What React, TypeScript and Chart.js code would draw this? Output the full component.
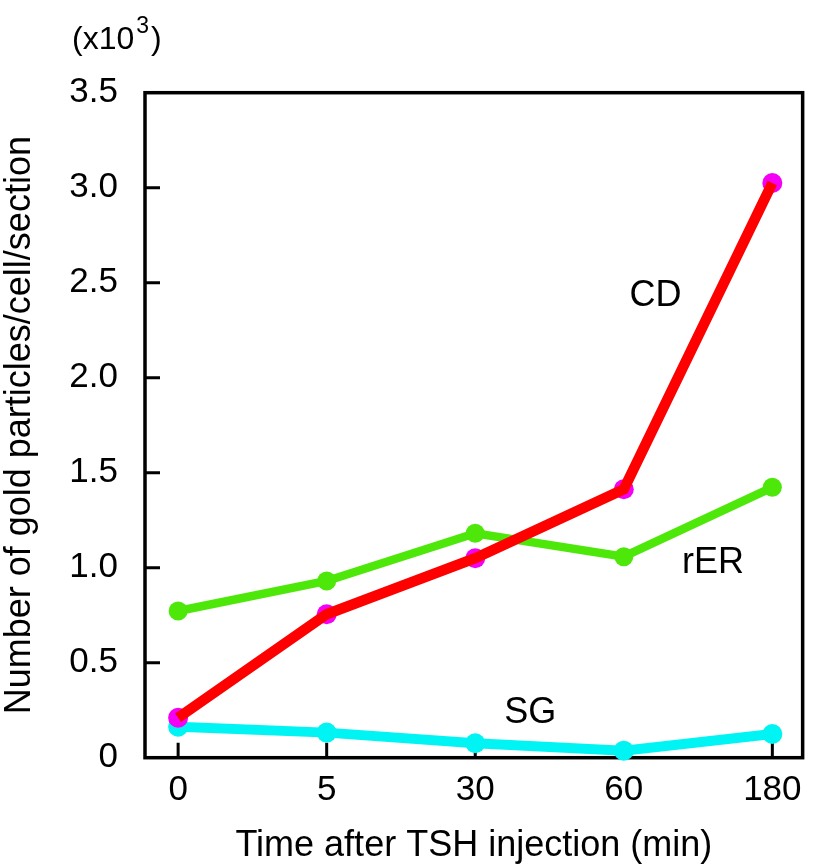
import React, { useEffect, useRef } from "react";
import { Chart, registerables } from "chart.js";

Chart.register(...registerables);

const timeLabels = ["0", "5", "30", "60", "180"];
const cdValues = [0.21, 0.755, 1.05, 1.413, 3.025];
const rerValues = [0.772, 0.93, 1.181, 1.058, 1.423];
const sgValues = [0.163, 0.132, 0.076, 0.037, 0.125];
const yTicks = [0, 0.5, 1.0, 1.5, 2.0, 2.5, 3.0, 3.5];

// where the series names sit, in data units
const seriesNotes = [
  { text: "CD", x: 3.213, y: 2.43 },
  { text: "rER", x: 3.6, y: 1.025 },
  { text: "SG", x: 2.37, y: 0.235 },
];

const FONT = "'Liberation Sans', Arial, Helvetica, sans-serif";

const toPoints = (vals: number[]) => vals.map((v, i) => ({ x: i, y: v }));

// black frame with ticks pointing inward, drawn under the data
const framePlugin = {
  id: "frame",
  beforeDatasetsDraw(chart: any) {
    const { ctx, chartArea } = chart;
    const xs = chart.scales.x;
    const ys = chart.scales.y;
    ctx.save();
    ctx.strokeStyle = "#000";
    ctx.lineWidth = 3.5;
    ctx.strokeRect(chartArea.left, chartArea.top, chartArea.right - chartArea.left, chartArea.bottom - chartArea.top);
    ctx.lineWidth = 3;
    ctx.beginPath();
    yTicks.forEach((t) => {
      if (t === 0 || t === 3.5) return;
      const py = ys.getPixelForValue(t);
      ctx.moveTo(chartArea.left, py);
      ctx.lineTo(chartArea.left + 15, py);
    });
    timeLabels.forEach((_, i) => {
      const px = xs.getPixelForValue(i);
      ctx.moveTo(px, chartArea.bottom);
      ctx.lineTo(px, chartArea.bottom - 15);
    });
    ctx.stroke();
    ctx.restore();
  },
  afterDraw(chart: any) {
    const { ctx } = chart;
    const xs = chart.scales.x;
    const ys = chart.scales.y;
    ctx.save();
    ctx.fillStyle = "#000";
    ctx.textAlign = "center";
    ctx.textBaseline = "middle";
    ctx.font = `36px ${FONT}`;
    seriesNotes.forEach((n) => {
      ctx.fillText(n.text, xs.getPixelForValue(n.x), ys.getPixelForValue(n.y));
    });
    // unit note above the y axis
    ctx.textAlign = "left";
    ctx.textBaseline = "alphabetic";
    ctx.font = `32px ${FONT}`;
    ctx.fillText("(x10", 72, 49);
    const w = ctx.measureText("(x10").width;
    ctx.font = `23px ${FONT}`;
    ctx.fillText("3", 72 + w + 2, 33);
    const w3 = ctx.measureText("3").width;
    ctx.font = `32px ${FONT}`;
    ctx.fillText(")", 72 + w + w3 + 4, 49);
    ctx.restore();
  },
};

const App = () => {
  const chartRef = useRef<HTMLCanvasElement>(null);

  useEffect(() => {
    const ctx = chartRef.current!.getContext("2d")!;
    const myChart = new Chart(ctx, {
      type: "line",
      data: {
        datasets: [
          {
            label: "CD",
            data: toPoints(cdValues),
            borderColor: "#ff0000",
            borderWidth: 10.5,
            pointRadius: 0,
            fill: false,
            clip: false,
          },
          {
            label: "CD points",
            data: toPoints(cdValues),
            showLine: false,
            pointRadius: 10,
            pointBackgroundColor: "#f400f4",
            pointBorderWidth: 0,
            clip: false,
          },
          {
            label: "rER",
            data: toPoints(rerValues),
            borderColor: "#4de80a",
            borderWidth: 8.5,
            pointRadius: 9.5,
            pointBackgroundColor: "#4de80a",
            pointBorderWidth: 0,
            fill: false,
            clip: false,
          },
          {
            label: "SG",
            data: toPoints(sgValues),
            borderColor: "#00f4f4",
            borderWidth: 10,
            pointRadius: 10,
            pointBackgroundColor: "#00f4f4",
            pointBorderWidth: 0,
            fill: false,
            clip: false,
          },
        ],
      } as any,
      options: {
        responsive: false,
        animation: false,
        layout: { padding: { top: 92.7, right: 7, left: 0, bottom: 0 } },
        plugins: {
          legend: { display: false },
          tooltip: { enabled: false },
        },
        scales: {
          x: {
            type: "linear",
            min: -0.223,
            max: 4.204,
            afterBuildTicks: (scale: any) => {
              scale.ticks = timeLabels.map((_, i) => ({ value: i }));
            },
            afterFit: (scale: any) => {
              scale.height = 106.3;
            },
            grid: { display: false, drawTicks: false },
            border: { display: false },
            ticks: {
              color: "#000",
              font: { family: FONT, size: 35 },
              padding: 12,
              maxRotation: 0,
              autoSkip: false,
              callback: (v: any) => timeLabels[Math.round(v)] ?? "",
            },
            title: {
              display: true,
              text: "Time after TSH injection (min)",
              color: "#000",
              font: { family: FONT, size: 36 },
              padding: { top: 0, bottom: -4 },
            },
          },
          y: {
            min: 0,
            max: 3.5,
            afterBuildTicks: (scale: any) => {
              scale.ticks = yTicks.map((v) => ({ value: v }));
            },
            afterFit: (scale: any) => {
              scale.width = 145;
            },
            grid: { display: false, drawTicks: false },
            border: { display: false },
            ticks: {
              color: "#000",
              font: { family: FONT, size: 35 },
              padding: 27,
              callback: (v: any) => (v === 0 ? "0" : Number(v).toFixed(1)),
            },
            title: {
              display: true,
              text: "Number of gold particles/cell/section",
              color: "#000",
              font: { family: FONT, size: 36 },
              padding: { top: -2, bottom: 0 },
            },
          },
        },
      },
      plugins: [framePlugin],
    });

    return () => {
      myChart.destroy();
    };
  }, []);

  return (
    <div style={{ position: "absolute", left: 0, top: 0, width: 814, height: 864, background: "#fff" }}>
      <canvas ref={chartRef} width="814" height="864"></canvas>
    </div>
  );
};

export default App;
